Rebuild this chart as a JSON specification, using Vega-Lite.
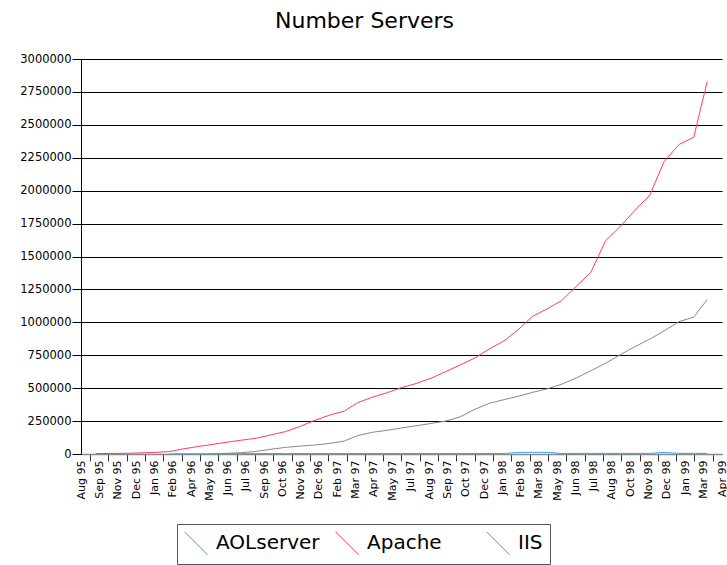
{
  "$schema": "https://vega.github.io/schema/vega-lite/v6.json",
  "width": 641,
  "height": 395,
  "autosize": {"type": "none"},
  "padding": {"left": 81, "top": 59, "right": 5, "bottom": 111},
  "background": "white",
  "title": {"text": "Number Servers", "font": "DejaVu Sans", "fontSize": 22, "fontWeight": "normal", "color": "#000", "anchor": "middle", "dx": -37, "offset": 20},
  "config": {"view": {"stroke": null}, "font": "DejaVu Sans"},
  "data": {"values": [
    {"d":"1996-02-17","s":"AOLserver","n":1000},{"d":"1996-03-17","s":"AOLserver","n":1500},{"d":"1996-04-17","s":"AOLserver","n":2000},{"d":"1996-05-17","s":"AOLserver","n":2000},{"d":"1996-06-17","s":"AOLserver","n":2500},{"d":"1996-07-17","s":"AOLserver","n":2500},{"d":"1996-08-17","s":"AOLserver","n":3000},{"d":"1996-09-17","s":"AOLserver","n":3000},{"d":"1996-10-17","s":"AOLserver","n":3000},{"d":"1996-11-17","s":"AOLserver","n":3500},{"d":"1996-12-17","s":"AOLserver","n":3500},{"d":"1997-01-17","s":"AOLserver","n":3500},{"d":"1997-02-17","s":"AOLserver","n":3500},{"d":"1997-03-17","s":"AOLserver","n":3500},{"d":"1997-04-17","s":"AOLserver","n":4000},{"d":"1997-05-17","s":"AOLserver","n":4000},{"d":"1997-06-17","s":"AOLserver","n":4000},{"d":"1997-07-17","s":"AOLserver","n":4000},{"d":"1997-08-17","s":"AOLserver","n":4000},{"d":"1997-09-17","s":"AOLserver","n":4000},{"d":"1997-10-17","s":"AOLserver","n":4000},{"d":"1997-11-17","s":"AOLserver","n":4000},{"d":"1997-12-17","s":"AOLserver","n":4000},{"d":"1998-01-17","s":"AOLserver","n":4000},{"d":"1998-02-17","s":"AOLserver","n":12000},{"d":"1998-03-17","s":"AOLserver","n":13000},{"d":"1998-04-17","s":"AOLserver","n":12500},{"d":"1998-05-17","s":"AOLserver","n":4000},{"d":"1998-06-17","s":"AOLserver","n":4500},{"d":"1998-07-17","s":"AOLserver","n":4500},{"d":"1998-08-17","s":"AOLserver","n":4500},{"d":"1998-09-17","s":"AOLserver","n":4500},{"d":"1998-10-17","s":"AOLserver","n":4500},{"d":"1998-11-17","s":"AOLserver","n":4500},{"d":"1998-12-17","s":"AOLserver","n":12000},{"d":"1999-01-17","s":"AOLserver","n":5000},{"d":"1999-02-17","s":"AOLserver","n":5000},{"d":"1999-03-17","s":"AOLserver","n":5000},
    {"d":"1995-09-17","s":"Apache","n":3000},{"d":"1995-10-17","s":"Apache","n":4000},{"d":"1995-11-17","s":"Apache","n":5000},{"d":"1995-12-17","s":"Apache","n":8000},{"d":"1996-01-17","s":"Apache","n":12000},{"d":"1996-02-17","s":"Apache","n":18000},{"d":"1996-03-17","s":"Apache","n":38000},{"d":"1996-04-17","s":"Apache","n":57000},{"d":"1996-05-17","s":"Apache","n":72000},{"d":"1996-06-17","s":"Apache","n":90000},{"d":"1996-07-17","s":"Apache","n":105000},{"d":"1996-08-17","s":"Apache","n":120000},{"d":"1996-09-17","s":"Apache","n":145000},{"d":"1996-10-17","s":"Apache","n":170000},{"d":"1996-11-17","s":"Apache","n":210000},{"d":"1996-12-17","s":"Apache","n":255000},{"d":"1997-01-17","s":"Apache","n":295000},{"d":"1997-02-17","s":"Apache","n":326000},{"d":"1997-03-17","s":"Apache","n":390000},{"d":"1997-04-17","s":"Apache","n":432000},{"d":"1997-05-17","s":"Apache","n":465000},{"d":"1997-06-17","s":"Apache","n":505000},{"d":"1997-07-17","s":"Apache","n":535000},{"d":"1997-08-17","s":"Apache","n":575000},{"d":"1997-09-17","s":"Apache","n":626000},{"d":"1997-10-17","s":"Apache","n":676000},{"d":"1997-11-17","s":"Apache","n":730000},{"d":"1997-12-17","s":"Apache","n":798000},{"d":"1998-01-17","s":"Apache","n":860000},{"d":"1998-02-17","s":"Apache","n":950000},{"d":"1998-03-17","s":"Apache","n":1045000},{"d":"1998-04-17","s":"Apache","n":1103000},{"d":"1998-05-17","s":"Apache","n":1165000},{"d":"1998-06-17","s":"Apache","n":1275000},{"d":"1998-07-17","s":"Apache","n":1380000},{"d":"1998-08-17","s":"Apache","n":1620000},{"d":"1998-09-17","s":"Apache","n":1730000},{"d":"1998-10-17","s":"Apache","n":1850000},{"d":"1998-11-17","s":"Apache","n":1965000},{"d":"1998-12-17","s":"Apache","n":2220000},{"d":"1999-01-17","s":"Apache","n":2350000},{"d":"1999-02-17","s":"Apache","n":2406000},{"d":"1999-03-17","s":"Apache","n":2828000},
    {"d":"1996-05-17","s":"IIS","n":2000},{"d":"1996-06-17","s":"IIS","n":5000},{"d":"1996-07-17","s":"IIS","n":10000},{"d":"1996-08-17","s":"IIS","n":20000},{"d":"1996-09-17","s":"IIS","n":36000},{"d":"1996-10-17","s":"IIS","n":50000},{"d":"1996-11-17","s":"IIS","n":60000},{"d":"1996-12-17","s":"IIS","n":68000},{"d":"1997-01-17","s":"IIS","n":80000},{"d":"1997-02-17","s":"IIS","n":98000},{"d":"1997-03-17","s":"IIS","n":140000},{"d":"1997-04-17","s":"IIS","n":165000},{"d":"1997-05-17","s":"IIS","n":180000},{"d":"1997-06-17","s":"IIS","n":198000},{"d":"1997-07-17","s":"IIS","n":214000},{"d":"1997-08-17","s":"IIS","n":232000},{"d":"1997-09-17","s":"IIS","n":250000},{"d":"1997-10-17","s":"IIS","n":282000},{"d":"1997-11-17","s":"IIS","n":340000},{"d":"1997-12-17","s":"IIS","n":385000},{"d":"1998-01-17","s":"IIS","n":413000},{"d":"1998-02-17","s":"IIS","n":440000},{"d":"1998-03-17","s":"IIS","n":468000},{"d":"1998-04-17","s":"IIS","n":495000},{"d":"1998-05-17","s":"IIS","n":530000},{"d":"1998-06-17","s":"IIS","n":578000},{"d":"1998-07-17","s":"IIS","n":632000},{"d":"1998-08-17","s":"IIS","n":690000},{"d":"1998-09-17","s":"IIS","n":755000},{"d":"1998-10-17","s":"IIS","n":815000},{"d":"1998-11-17","s":"IIS","n":872000},{"d":"1998-12-17","s":"IIS","n":935000},{"d":"1999-01-17","s":"IIS","n":1005000},{"d":"1999-02-17","s":"IIS","n":1040000},{"d":"1999-03-17","s":"IIS","n":1172000}
  ]},
  "mark": {"type": "line", "strokeWidth": 1, "interpolate": "linear"},
  "encoding": {
    "x": {
      "field": "d", "type": "temporal",
      "scale": {"type": "utc", "domain": [{"year":1995,"month":8,"date":17,"utc":true},{"year":1999,"month":4,"date":17,"utc":true}]},
      "axis": {
        "title": null,
        "values": [
          {"year":1995,"month":8,"date":17,"utc":true},{"year":1995,"month":9,"date":24,"utc":true},{"year":1995,"month":11,"date":2,"utc":true},{"year":1995,"month":12,"date":10,"utc":true},
          {"year":1996,"month":1,"date":17,"utc":true},{"year":1996,"month":2,"date":24,"utc":true},{"year":1996,"month":4,"date":3,"utc":true},{"year":1996,"month":5,"date":11,"utc":true},
          {"year":1996,"month":6,"date":18,"utc":true},{"year":1996,"month":7,"date":26,"utc":true},{"year":1996,"month":9,"date":3,"utc":true},{"year":1996,"month":10,"date":11,"utc":true},
          {"year":1996,"month":11,"date":18,"utc":true},{"year":1996,"month":12,"date":26,"utc":true},{"year":1997,"month":2,"date":3,"utc":true},{"year":1997,"month":3,"date":13,"utc":true},
          {"year":1997,"month":4,"date":20,"utc":true},{"year":1997,"month":5,"date":28,"utc":true},{"year":1997,"month":7,"date":6,"utc":true},{"year":1997,"month":8,"date":13,"utc":true},
          {"year":1997,"month":9,"date":20,"utc":true},{"year":1997,"month":10,"date":28,"utc":true},{"year":1997,"month":12,"date":6,"utc":true},{"year":1998,"month":1,"date":13,"utc":true},
          {"year":1998,"month":2,"date":20,"utc":true},{"year":1998,"month":3,"date":30,"utc":true},{"year":1998,"month":5,"date":8,"utc":true},{"year":1998,"month":6,"date":15,"utc":true},
          {"year":1998,"month":7,"date":23,"utc":true},{"year":1998,"month":8,"date":30,"utc":true},{"year":1998,"month":10,"date":8,"utc":true},{"year":1998,"month":11,"date":15,"utc":true},
          {"year":1998,"month":12,"date":23,"utc":true},{"year":1999,"month":1,"date":30,"utc":true},{"year":1999,"month":3,"date":10,"utc":true},{"year":1999,"month":4,"date":17,"utc":true}
        ],
        "format": "%b %y",
        "labelAngle": -90, "labelFont": "DejaVu Sans", "labelFontSize": 11, "labelColor": "#000",
        "tickSize": 7, "tickColor": "#333", "tickOffset": 9.13, "labelOffset": -9.13, "labelPadding": -1,
        "domainColor": "#888", "domainWidth": 1.5, "grid": false,
        "labelOverlap": false, "labelFlush": false, "labelBound": false
      }
    },
    "y": {
      "field": "n", "type": "quantitative",
      "scale": {"domain": [0, 3000000], "nice": false},
      "axis": {
        "title": null,
        "values": [0,250000,500000,750000,1000000,1250000,1500000,1750000,2000000,2250000,2500000,2750000,3000000],
        "format": "d", "labelFont": "DejaVu Sans", "labelFontSize": 11.5, "labelColor": "#000",
        "tickSize": 9, "tickColor": "#000", "labelPadding": 1,
        "domainColor": "#000", "domainWidth": 1,
        "grid": true, "gridColor": "#000", "gridWidth": 1.2, "labelOverlap": false, "labelFlush": false
      }
    },
    "color": {
      "field": "s", "type": "nominal",
      "scale": {"domain": ["AOLserver", "Apache", "IIS"], "range": ["#2aa8f0", "#ff3a6a", "#888888"]},
      "legend": {
        "title": null, "orient": "none", "legendX": 96, "legendY": 465,
        "direction": "horizontal", "columns": 3,
        "symbolType": "M-1,-1L1,1", "symbolSize": 529, "symbolStrokeWidth": 1, "symbolFillColor": "transparent",
        "labelFont": "DejaVu Sans", "labelFontSize": 20, "labelColor": "#000", "labelOffset": 8, "labelLimit": 0,
        "columnPadding": 13, "padding": 7, "strokeColor": "#555", "gridAlign": "all"
      }
    }
  }
}
